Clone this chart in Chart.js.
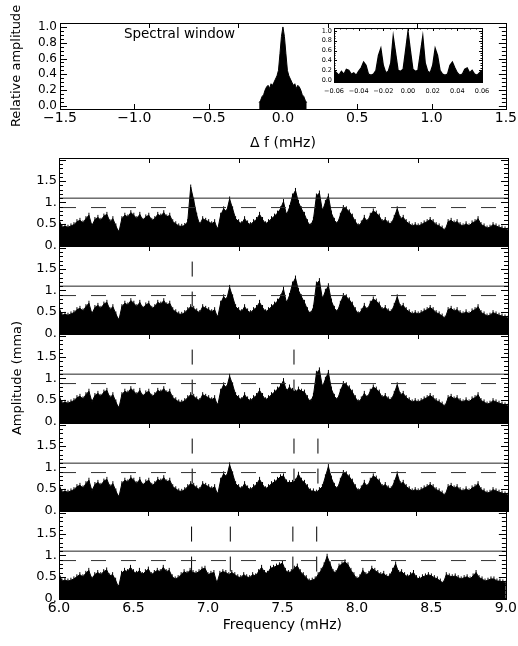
<!DOCTYPE html>
<html>
<head>
<meta charset="utf-8">
<script src="https://cdn.jsdelivr.net/npm/chart.js@4.4.1/dist/chart.umd.min.js"></script>
<style>
  html, body { margin: 0; padding: 0; background: #fff; }
  #wrap { position: relative; width: 518px; height: 646px; overflow: hidden; }
  canvas { position: absolute; }
</style>
</head>
<body>
<div id="wrap">
  <canvas id="cWin" width="518" height="150" style="left:0;top:0"></canvas>
  <canvas id="cInset" width="200" height="85" style="left:295px;top:18px"></canvas>
  <canvas id="cP0" width="518" height="160" style="left:0;top:122px"></canvas>
  <canvas id="cP1" width="518" height="160" style="left:0;top:210px"></canvas>
  <canvas id="cP2" width="518" height="160" style="left:0;top:298px"></canvas>
  <canvas id="cP3" width="518" height="160" style="left:0;top:387px"></canvas>
  <canvas id="cP4" width="518" height="171" style="left:0;top:475px"></canvas>
</div>
<script>
// spectral window, main panel (delta f in mHz, step 0.01)
const winStart = -0.16, winStep = 0.01;
const winAmp = [0.04,0.07,0.12,0.14,0.20,0.24,0.26,0.22,0.28,0.26,0.30,0.34,0.38,0.45,0.66,0.88,
  1.00,
  0.88,0.66,0.45,0.38,0.34,0.30,0.26,0.28,0.22,0.26,0.24,0.20,0.14,0.12,0.07,0.04];

// spectral window, inset zoom (step 0.002 mHz)
const insetStart = -0.06, insetStep = 0.002;
const insetAmp = [0.20,0.15,0.10,0.18,0.12,0.22,0.20,0.12,0.15,0.10,
  0.18,0.25,0.37,0.30,0.12,0.10,0.12,0.20,0.50,0.65,
  0.30,0.15,0.18,0.35,0.90,0.55,0.20,0.18,0.22,0.60,
  1.00,
  0.60,0.22,0.18,0.20,0.55,0.90,0.35,0.18,0.15,0.30,
  0.65,0.50,0.20,0.12,0.10,0.12,0.30,0.37,0.25,0.15,
  0.10,0.12,0.22,0.25,0.15,0.20,0.12,0.10,0.15,0.20];

// amplitude spectra, 6.00 .. 9.00 mHz in 0.02 mHz steps
const freqStart = 6.0, freqStep = 0.02;
const amp1 = [
  0.60,0.42,0.44,0.42,0.45,0.48,0.55,0.58,0.52,0.62,
  0.70,0.45,0.60,0.65,0.58,0.68,0.72,0.55,0.62,0.45,
  0.30,0.62,0.70,0.66,0.76,0.70,0.62,0.72,0.58,0.66,
  0.70,0.58,0.62,0.72,0.68,0.76,0.66,0.70,0.55,0.50,
  0.45,0.44,0.46,0.55,1.36,1.05,0.70,0.48,0.62,0.58,
  0.55,0.50,0.55,0.36,0.70,0.85,0.78,1.08,0.85,0.62,
  0.55,0.50,0.62,0.52,0.48,0.55,0.60,0.72,0.60,0.50,
  0.55,0.62,0.68,0.75,0.85,1.02,0.70,0.88,1.15,1.28,
  1.00,0.85,0.72,0.55,0.45,0.60,1.15,1.22,0.80,1.00,
  1.15,0.75,0.58,0.50,0.70,0.88,0.85,0.78,0.68,0.55,
  0.45,0.52,0.65,0.55,0.70,0.80,0.75,0.68,0.55,0.60,
  0.52,0.50,0.65,0.85,0.62,0.65,0.55,0.50,0.45,0.48,
  0.45,0.48,0.52,0.55,0.60,0.55,0.48,0.45,0.40,0.35,
  0.55,0.58,0.52,0.55,0.48,0.45,0.50,0.45,0.52,0.55,
  0.62,0.48,0.45,0.40,0.42,0.48,0.45,0.42,0.40,0.38,
  0.35];
const amp2 = [
  0.60,0.42,0.44,0.42,0.45,0.48,0.55,0.58,0.52,0.62,
  0.70,0.45,0.60,0.65,0.58,0.68,0.72,0.55,0.62,0.45,
  0.30,0.62,0.70,0.66,0.76,0.70,0.62,0.72,0.58,0.66,
  0.70,0.58,0.62,0.72,0.68,0.76,0.66,0.70,0.55,0.50,
  0.45,0.44,0.48,0.55,0.62,0.58,0.52,0.48,0.62,0.58,
  0.55,0.50,0.55,0.36,0.70,0.85,0.78,1.07,0.85,0.62,
  0.55,0.50,0.62,0.52,0.48,0.55,0.60,0.72,0.60,0.50,
  0.55,0.62,0.68,0.75,0.85,1.03,0.70,0.88,1.15,1.29,
  1.00,0.85,0.72,0.55,0.45,0.60,1.15,1.23,0.80,0.98,
  1.11,0.75,0.58,0.50,0.70,0.88,0.85,0.78,0.68,0.55,
  0.45,0.52,0.65,0.55,0.70,0.80,0.75,0.68,0.55,0.60,
  0.52,0.50,0.65,0.85,0.62,0.65,0.55,0.50,0.45,0.48,
  0.45,0.48,0.52,0.55,0.60,0.55,0.48,0.45,0.40,0.35,
  0.55,0.58,0.52,0.55,0.48,0.45,0.50,0.45,0.52,0.55,
  0.62,0.48,0.45,0.40,0.42,0.48,0.45,0.42,0.40,0.38,
  0.35];
const amp3 = [
  0.60,0.42,0.44,0.42,0.45,0.48,0.55,0.58,0.52,0.62,
  0.70,0.45,0.60,0.65,0.58,0.68,0.72,0.55,0.62,0.45,
  0.30,0.62,0.70,0.66,0.76,0.70,0.62,0.72,0.58,0.66,
  0.70,0.58,0.62,0.72,0.68,0.76,0.66,0.70,0.55,0.50,
  0.45,0.44,0.48,0.55,0.62,0.58,0.52,0.48,0.62,0.58,
  0.55,0.50,0.55,0.36,0.70,0.85,0.78,1.05,0.85,0.62,
  0.55,0.50,0.62,0.52,0.48,0.55,0.60,0.72,0.60,0.50,
  0.55,0.62,0.68,0.75,0.82,0.95,0.70,0.80,0.72,0.68,
  0.75,0.70,0.68,0.55,0.45,0.60,1.12,1.20,0.80,0.98,
  1.14,0.75,0.58,0.50,0.70,0.88,0.85,0.78,0.68,0.55,
  0.45,0.52,0.65,0.55,0.70,0.80,0.75,0.68,0.55,0.60,
  0.52,0.50,0.65,0.85,0.62,0.65,0.55,0.50,0.45,0.48,
  0.45,0.48,0.52,0.55,0.60,0.55,0.48,0.45,0.40,0.35,
  0.55,0.58,0.52,0.55,0.48,0.45,0.50,0.45,0.52,0.55,
  0.62,0.48,0.45,0.40,0.42,0.48,0.45,0.42,0.40,0.38,
  0.35];
const amp4 = [
  0.60,0.42,0.44,0.42,0.45,0.48,0.55,0.58,0.52,0.62,
  0.70,0.45,0.60,0.65,0.58,0.68,0.72,0.55,0.62,0.45,
  0.30,0.62,0.70,0.66,0.76,0.70,0.62,0.72,0.58,0.66,
  0.70,0.58,0.62,0.72,0.68,0.76,0.66,0.70,0.55,0.50,
  0.45,0.44,0.48,0.55,0.62,0.58,0.52,0.48,0.62,0.58,
  0.55,0.50,0.55,0.36,0.70,0.85,0.78,1.06,0.85,0.62,
  0.55,0.50,0.62,0.52,0.48,0.55,0.60,0.72,0.60,0.50,
  0.55,0.62,0.66,0.72,0.78,0.80,0.66,0.64,0.65,0.68,
  0.84,0.70,0.65,0.55,0.45,0.45,0.42,0.48,0.55,0.78,
  1.02,0.75,0.58,0.50,0.70,0.88,0.85,0.78,0.68,0.55,
  0.45,0.52,0.65,0.55,0.70,0.80,0.75,0.68,0.55,0.60,
  0.52,0.50,0.65,0.85,0.62,0.65,0.55,0.50,0.45,0.48,
  0.45,0.48,0.52,0.55,0.60,0.55,0.48,0.45,0.40,0.35,
  0.55,0.58,0.52,0.55,0.48,0.45,0.50,0.45,0.52,0.55,
  0.62,0.48,0.45,0.40,0.42,0.48,0.45,0.42,0.40,0.38,
  0.35];
const amp5 = [
  0.58,0.40,0.42,0.40,0.42,0.45,0.50,0.55,0.50,0.58,
  0.65,0.45,0.55,0.60,0.55,0.62,0.66,0.52,0.55,0.42,
  0.25,0.58,0.65,0.62,0.72,0.62,0.58,0.65,0.55,0.62,
  0.68,0.55,0.60,0.65,0.62,0.72,0.62,0.65,0.50,0.45,
  0.48,0.55,0.62,0.58,0.65,0.60,0.58,0.62,0.68,0.70,
  0.55,0.58,0.60,0.35,0.58,0.62,0.60,0.55,0.60,0.55,
  0.50,0.48,0.55,0.50,0.48,0.55,0.52,0.62,0.72,0.60,
  0.58,0.70,0.72,0.75,0.78,0.82,0.65,0.60,0.62,0.70,
  0.75,0.62,0.55,0.48,0.40,0.42,0.45,0.55,0.65,0.78,
  0.98,0.80,0.62,0.60,0.75,0.80,0.85,0.78,0.65,0.55,
  0.45,0.50,0.65,0.55,0.58,0.70,0.65,0.60,0.55,0.58,
  0.50,0.52,0.65,0.80,0.60,0.62,0.55,0.50,0.55,0.60,
  0.48,0.45,0.50,0.52,0.55,0.52,0.48,0.45,0.40,0.35,
  0.55,0.52,0.50,0.52,0.48,0.45,0.48,0.50,0.45,0.52,
  0.60,0.48,0.45,0.40,0.42,0.45,0.45,0.40,0.40,0.38,
  0.35];
const spectra = [amp1, amp2, amp3, amp4, amp5];

// frequencies already removed, marked in each panel (mHz)
const markers = [[], [6.89], [6.89, 7.57], [6.89, 7.57, 7.73], [6.89, 7.15, 7.57, 7.73]];
const sigLevel = 1.1;
const noiseLevel = 0.88;

// tick labels
const winTickVals = [-1.5, -1.0, -0.5, 0.0, 0.5, 1.0, 1.5];
const winTickLabels = ['\u22121.5', '\u22121.0', '\u22120.5', '0.0', '0.5', '1.0', '1.5'];
const relTickVals = [0, 0.2, 0.4, 0.6, 0.8, 1.0];
const relTickLabels = ['0.0', '0.2', '0.4', '0.6', '0.8', '1.0'];
const insetTickVals = [-0.06, -0.04, -0.02, 0, 0.02, 0.04, 0.06];
const insetTickLabels = ['\u22120.06', '\u22120.04', '\u22120.02', '0.00', '0.02', '0.04', '0.06'];
const ampTickVals = [0, 0.5, 1, 1.5];
const ampTickLabels = ['0.', '0.5', '1.', '1.5'];
const freqTickVals = [6.0, 6.5, 7.0, 7.5, 8.0, 8.5, 9.0];
const freqTickLabels = ['6.0', '6.5', '7.0', '7.5', '8.0', '8.5', '9.0'];

const FONT = 'DejaVu Sans';
Chart.defaults.font.family = FONT;
Chart.defaults.color = '#000';

const steps = (a, b, s) => {
  const out = [];
  for (let v = a; v <= b + 1e-9; v += s) out.push(+v.toFixed(4));
  return out;
};

// IDL-like box with inward tick marks on all four sides
const frame = {
  id: 'frame',
  afterDatasetsDraw(chart, args, o) {
    if (!o || !o.on) return;
    const { ctx, chartArea: a, scales: { x, y } } = chart;
    ctx.save();
    ctx.strokeStyle = '#000';
    ctx.lineWidth = 1;
    ctx.beginPath();
    const xt = (vals, len, onTop, onBottom) => vals.forEach(v => {
      const p = Math.round(x.getPixelForValue(v)) + 0.5;
      if (onBottom) { ctx.moveTo(p, a.bottom); ctx.lineTo(p, a.bottom - len); }
      if (onTop) { ctx.moveTo(p, a.top); ctx.lineTo(p, a.top + len); }
    });
    const yt = (vals, len) => vals.forEach(v => {
      const p = Math.round(y.getPixelForValue(v)) + 0.5;
      ctx.moveTo(a.left, p); ctx.lineTo(a.left + len, p);
      ctx.moveTo(a.right, p); ctx.lineTo(a.right - len, p);
    });
    xt(o.xTop || [], o.xLen, true, false);
    xt(o.xBottom || [], o.xLen, false, true);
    xt(o.xMinor || [], o.xMinLen || 0, true, true);
    yt(o.yMajor || [], o.yMajLen);
    yt(o.yMinor || [], o.yMinLen);
    ctx.stroke();
    ctx.strokeRect(Math.round(a.left) + 0.5, Math.round(a.top) + 0.5,
      Math.round(a.right - a.left), Math.round(a.bottom - a.top));
    ctx.restore();
  }
};

// free text placed in data coordinates
const note = {
  id: 'note',
  afterDraw(chart, args, o) {
    if (!o || !o.text) return;
    const { ctx, scales: { x, y } } = chart;
    ctx.save();
    ctx.font = o.size + 'px ' + FONT;
    ctx.fillStyle = '#000';
    ctx.textAlign = 'left';
    ctx.textBaseline = 'middle';
    ctx.fillText(o.text, x.getPixelForValue(o.x), y.getPixelForValue(o.y));
    ctx.restore();
  }
};
Chart.register(frame, note);

const fixTicks = (vals) => (s) => { s.ticks = vals.map(v => ({ value: v })); };
const series = (start, step, vals) => vals.map((v, i) => ({ x: +(start + i * step).toFixed(4), y: v }));
const noGrid = { display: false, drawTicks: false };
// short vertical hairs at every sample give the noisy periodogram texture
const hairs = { pointStyle: 'line', pointRotation: 90, pointRadius: 2.5, pointBorderColor: '#000', pointBorderWidth: 1 };

const baseOpts = {
  responsive: false,
  animation: false,
  events: [],
  plugins: { legend: { display: false }, tooltip: { enabled: false } }
};

// ---- spectral window ----
new Chart(document.getElementById('cWin'), {
  type: 'line',
  data: {
    datasets: [{
      data: series(winStart, winStep, winAmp),
      borderColor: '#000', backgroundColor: '#000', borderWidth: 1,
      pointRadius: 0, fill: 'start'
    }]
  },
  options: {
    ...baseOpts,
    layout: { padding: { top: 23, right: 10, left: 0, bottom: 0 } },
    plugins: {
      ...baseOpts.plugins,
      frame: {
        on: true, xTop: [-0.9, -0.3, 0.3, 0.9], xBottom: [-1, -0.5, 0, 0.5, 1], xLen: 5,
        yMajor: relTickVals, yMajLen: 7, yMinor: steps(0, 1.05, 0.05), yMinLen: 4
      },
      note: { text: 'Spectral window', x: -1.07, y: 0.9, size: 13.5 }
    },
    scales: {
      x: {
        type: 'linear', min: -1.5, max: 1.5,
        afterBuildTicks: fixTicks(winTickVals),
        afterFit: (s) => { s.height = 41; },
        ticks: { callback: (v, i) => winTickLabels[i], font: { size: 14 }, padding: 1, maxRotation: 0, autoSkip: false },
        grid: noGrid, border: { display: false },
        title: { display: true, text: 'Δ f (mHz)', font: { size: 14, lineHeight: 1 }, padding: 0 }
      },
      y: {
        type: 'linear', min: -0.04, max: 1.05,
        afterBuildTicks: fixTicks(relTickVals),
        afterFit: (s) => { s.width = 60; },
        ticks: { callback: (v, i) => relTickLabels[i], font: { size: 12, lineHeight: 1 }, padding: 3, autoSkip: false },
        grid: noGrid, border: { display: false },
        title: { display: true, text: 'Relative amplitude', font: { size: 13 }, padding: { top: 9, bottom: 0 } }
      }
    }
  }
});

// ---- inset ----
new Chart(document.getElementById('cInset'), {
  type: 'line',
  data: {
    datasets: [{
      data: series(insetStart, insetStep, insetAmp),
      borderColor: '#000', backgroundColor: '#000', borderWidth: 1.2,
      pointRadius: 0, fill: 'start'
    }]
  },
  options: {
    ...baseOpts,
    layout: { padding: { top: 10, right: 13, left: 0, bottom: 0 } },
    plugins: {
      ...baseOpts.plugins,
      frame: {
        on: true, xTop: insetTickVals, xBottom: insetTickVals, xLen: 3,
        xMinor: steps(-0.06, 0.06, 0.005), xMinLen: 1.5,
        yMajor: relTickVals, yMajLen: 3, yMinor: steps(0, 1.05, 0.05), yMinLen: 1.5
      }
    },
    scales: {
      x: {
        type: 'linear', min: -0.06, max: 0.06,
        afterBuildTicks: fixTicks(insetTickVals),
        afterFit: (s) => { s.height = 21; },
        ticks: { callback: (v, i) => insetTickLabels[i], font: { size: 6.5 }, padding: 5, maxRotation: 0, autoSkip: false },
        grid: noGrid, border: { display: false }
      },
      y: {
        type: 'linear', min: -0.04, max: 1.06,
        afterBuildTicks: fixTicks(relTickVals),
        afterFit: (s) => { s.width = 39; },
        ticks: { callback: (v, i) => relTickLabels[i], font: { size: 6.5, lineHeight: 1 }, padding: 2, autoSkip: false },
        grid: noGrid, border: { display: false }
      }
    }
  }
});

// ---- amplitude spectra ----
spectra.forEach((amp, k) => {
  const last = k === spectra.length - 1;
  const datasets = [
    { data: series(freqStart, freqStep, amp), borderColor: '#000', backgroundColor: '#000',
      borderWidth: 1, fill: 'start', order: 3, ...hairs },
    { data: [{ x: 6, y: sigLevel }, { x: 9, y: sigLevel }], borderColor: '#222',
      borderWidth: 1, pointRadius: 0, order: 1 },
    { data: [{ x: 6, y: noiseLevel }, { x: 9, y: noiseLevel }], borderColor: '#333',
      borderWidth: 1, borderDash: [15, 15], borderDashOffset: 28, pointRadius: 0, order: 1 }
  ];
  markers[k].forEach(f => datasets.push({
    data: [{ x: f, y: -0.08 }, { x: f, y: 2.04 }], borderColor: '#000',
    borderWidth: 1, borderDash: [15, 15], pointRadius: 0, order: 2
  }));

  new Chart(document.getElementById('cP' + k), {
    type: 'line',
    data: { datasets },
    options: {
      ...baseOpts,
      layout: { padding: { top: 36, right: 10, left: 0, bottom: last ? 0 : 36 } },
      plugins: {
        ...baseOpts.plugins,
        frame: {
          on: true, xTop: [6.6, 7.2, 7.8, 8.4], xBottom: last ? [6.5, 7.0, 7.5, 8.0, 8.5] : [6.6, 7.2, 7.8, 8.4],
          xLen: 5, yMajor: [0, 0.5, 1, 1.5, 2], yMajLen: 7, yMinor: steps(0, 2, 0.1), yMinLen: 4
        }
      },
      scales: {
        x: {
          type: 'linear', min: 6, max: 9, display: last,
          afterBuildTicks: fixTicks(freqTickVals),
          afterFit: (s) => { s.height = last ? 47 : 0; },
          ticks: { callback: (v, i) => freqTickLabels[i], font: { size: 14 }, padding: 1, maxRotation: 0, autoSkip: false },
          grid: noGrid, border: { display: false },
          title: { display: true, text: 'Frequency (mHz)', font: { size: 14 }, padding: { top: 0, bottom: 12 } }
        },
        y: {
          type: 'linear', min: -0.02, max: 2.04,
          afterBuildTicks: fixTicks(ampTickVals),
          afterFit: (s) => { s.width = 59; },
          ticks: { callback: (v, i) => ampTickLabels[i], font: { size: 13 }, padding: 2, autoSkip: false },
          grid: noGrid, border: { display: false },
          title: { display: k === 2, text: 'Amplitude (mma)', font: { size: 13 }, padding: { top: 10, bottom: 0 } }
        }
      }
    }
  });
});
</script>
</body>
</html>
